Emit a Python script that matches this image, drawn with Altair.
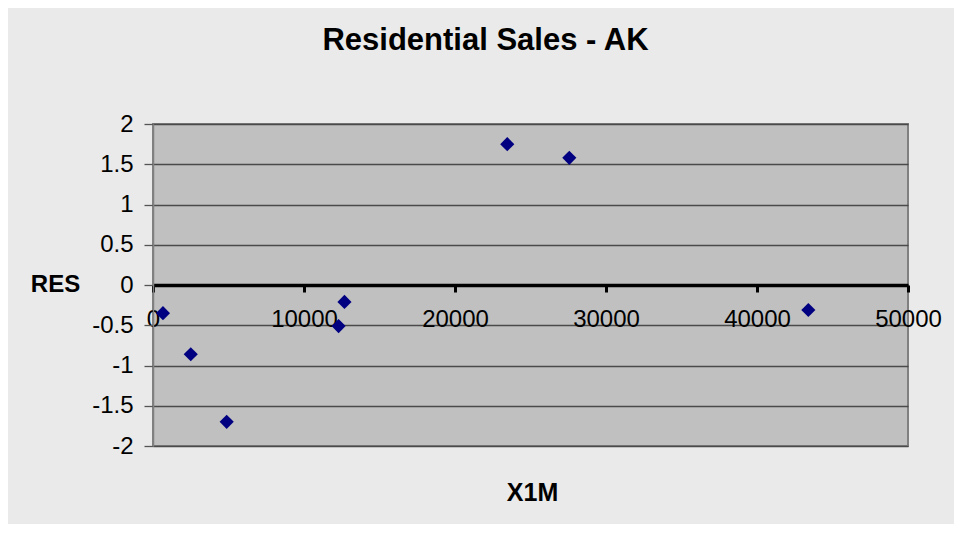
import altair as alt
import pandas as pd

x1m = [660, 2500, 4880, 12290, 12680, 23460, 27570, 43400]
res = [-0.35, -0.86, -1.70, -0.51, -0.21, 1.75, 1.58, -0.31]
x_ticks = [0, 10000, 20000, 30000, 40000, 50000]
y_ticks = [-2, -1.5, -1, -0.5, 0, 0.5, 1, 1.5, 2]

df = pd.DataFrame({"X1M": x1m, "RES": res})

W, H = 755, 322
FONT = "Liberation Sans"

chart = alt.Chart(df).mark_point(
    shape="diamond", filled=True, size=200, color="#000080", opacity=1
).encode(
    x=alt.X("X1M:Q", scale=alt.Scale(domain=[0, 50000], nice=False, zero=False),
            axis=alt.Axis(values=x_ticks, labelExpr="toString(datum.value)",
                          grid=False, offset=-H / 2, domainColor="black", domainWidth=3.5,
                          tickColor="black", tickWidth=3, tickSize=7, labelPadding=15,
                          labelFontSize=24, labelFont=FONT, labelColor="black",
                          labelFlush=False, labelOverlap=False,
                          title="X1M", titleFontSize=25, titleFont=FONT, titleFontWeight="bold",
                          titleColor="black", titleX=379, titleY=207, titleAlign="center",
                          titleBaseline="middle")),
    y=alt.Y("RES:Q", scale=alt.Scale(domain=[-2, 2], nice=False, zero=False),
            axis=alt.Axis(values=y_ticks, labelExpr="toString(datum.value)",
                          grid=True, gridColor="#4a4a4a", gridWidth=1.3,
                          domainColor="#808080", domainWidth=1.5,
                          tickColor="#555555", tickWidth=1.3, tickSize=9, labelPadding=11,
                          labelFontSize=24, labelFont=FONT, labelColor="black",
                          labelFlush=False, labelOverlap=False,
                          title="RES", titleAngle=0, titleFontSize=24, titleFont=FONT,
                          titleFontWeight="bold", titleColor="black", titleX=-98, titleY=160,
                          titleAlign="center", titleBaseline="middle")),
).properties(
    width=W, height=H,
    title=alt.Title("Residential Sales - AK", fontSize=31, font=FONT, fontWeight="bold",
                    color="black", anchor="middle", dx=-45, offset=55),
    autosize=alt.AutoSizeParams(type="none"),
    padding={"left": 145, "top": 116, "right": 46, "bottom": 78},
).configure(
    background="#EAEAEA",
).configure_view(
    fill="#C0C0C0", stroke="#808080", strokeWidth=2,
)

chart.save("out.html", embed_options={"renderer": "svg", "actions": False})
